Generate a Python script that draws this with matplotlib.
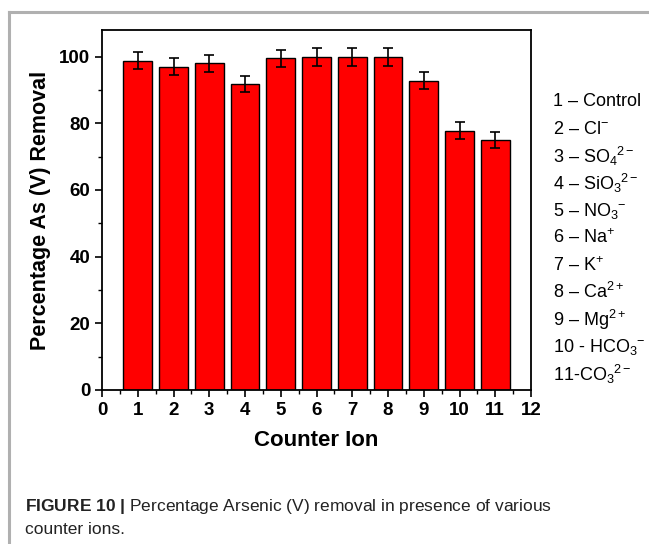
import matplotlib
matplotlib.use("Agg")
import matplotlib.pyplot as plt
from matplotlib.ticker import MultipleLocator
from matplotlib.lines import Line2D

plt.rcParams['font.family'] = ['Liberation Sans', 'DejaVu Sans']
plt.rcParams['mathtext.fontset'] = 'custom'
plt.rcParams['mathtext.rm'] = 'Liberation Sans'
plt.rcParams['mathtext.it'] = 'Liberation Sans'
plt.rcParams['mathtext.bf'] = 'Liberation Sans:bold'

ions = [1, 2, 3, 4, 5, 6, 7, 8, 9, 10, 11]
removal = [98.8, 97.0, 98.0, 91.8, 99.5, 99.9, 99.9, 99.9, 92.8, 77.8, 75.0]
errors = [2.6, 2.6, 2.6, 2.4, 2.5, 2.6, 2.6, 2.6, 2.5, 2.5, 2.3]
legend_labels = [
    "1 \u2013 Control",
    "2 \u2013 Cl$^{-}$",
    "3 \u2013 SO$_{4}$$^{2-}$",
    "4 \u2013 SiO$_{3}$$^{2-}$",
    "5 \u2013 NO$_{3}$$^{-}$",
    "6 \u2013 Na$^{+}$",
    "7 \u2013 K$^{+}$",
    "8 \u2013 Ca$^{2+}$",
    "9 \u2013 Mg$^{2+}$",
    "10 - HCO$_{3}$$^{-}$",
    "11-CO$_{3}$$^{2-}$",
]
xticks = list(range(0, 13))
yticks = [0, 20, 40, 60, 80, 100]

W, H = 649, 544
fig = plt.figure(figsize=(W / 100, H / 100), dpi=100)
ax = fig.add_axes([102 / W, 1 - 390 / H, (531 - 102) / W, (390 - 30) / H])

ax.bar(ions, removal, width=0.8, color='#ff0000', edgecolor='black', linewidth=1.0, zorder=2)
ax.errorbar(ions, removal, yerr=errors, fmt='none', ecolor='black', elinewidth=1.2,
            capsize=3.5, capthick=1.2, zorder=3)

ax.set_xlim(0, 12)
ax.set_ylim(0, 108)
ax.set_xticks(xticks)
ax.set_yticks(yticks)
ax.xaxis.set_minor_locator(MultipleLocator(0.5))
ax.yaxis.set_minor_locator(MultipleLocator(10))
ax.tick_params(which='major', direction='out', length=5, width=1.2, labelsize=13.5)
ax.tick_params(which='minor', direction='out', length=3, width=1.0)
for lab in ax.get_xticklabels() + ax.get_yticklabels():
    lab.set_fontweight('bold')
for s in ax.spines.values():
    s.set_linewidth(1.3)

ax.set_xlabel("Counter Ion", fontsize=16, fontweight='bold', labelpad=8)
ax.set_ylabel("Percentage As (V) Removal", fontsize=15.5, fontweight='bold', labelpad=6)

# legend-like text column
y0 = 102
dy = 27.2
for i, t in enumerate(legend_labels):
    fig.text(553 / W, 1 - (y0 + i * dy) / H, t, fontsize=13, va='center', ha='left',
             family=['Liberation Sans Narrow', 'Liberation Sans', 'DejaVu Sans'])

# frame lines of page
fig.add_artist(Line2D([9 / W, 9 / W], [0, 1 - 12 / H], transform=fig.transFigure,
                      color='#b0b0b0', linewidth=2.2))
fig.add_artist(Line2D([9 / W, 1], [1 - 12 / H, 1 - 12 / H], transform=fig.transFigure,
                      color='#b0b0b0', linewidth=2.2))

# caption
fig.text(25 / W, 1 - 506 / H, r"$\bf{FIGURE\ 10\ |}$ Percentage Arsenic (V) removal in presence of various",
         fontsize=12.5, va='center', ha='left', color='#222222')
fig.text(25 / W, 1 - 530 / H, "counter ions.", fontsize=12.5, va='center', ha='left', color='#222222')

fig.savefig("out.png", dpi=100)
